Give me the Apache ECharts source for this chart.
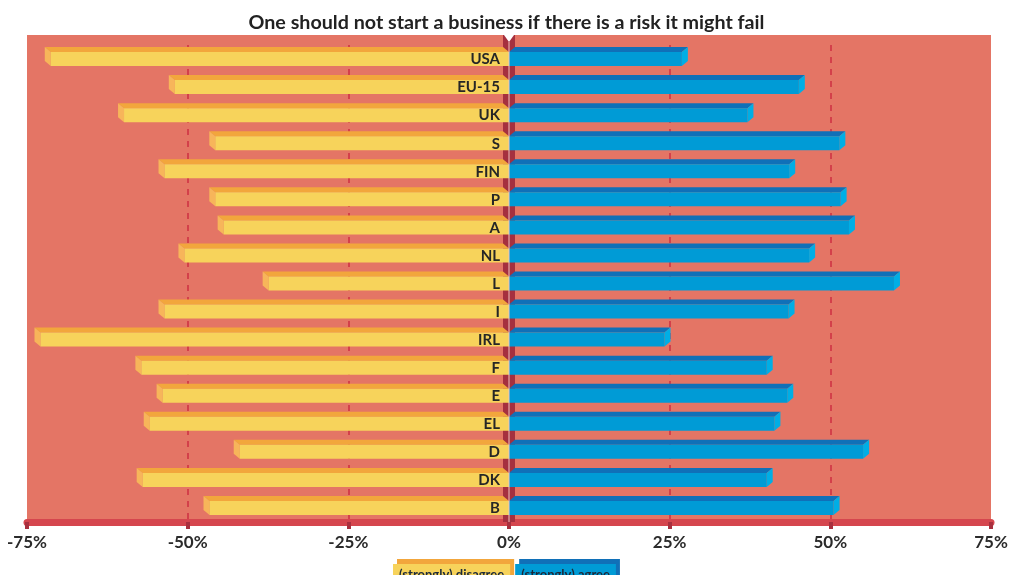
<!DOCTYPE html>
<html>
<head>
<meta charset="utf-8">
<script src="https://cdn.jsdelivr.net/npm/echarts@6/dist/echarts.min.js"></script>
<style>html,body{margin:0;padding:0;background:#fff}#c{width:1013px;height:575px}</style>
</head>
<body>
<div id="c"></div>
<script>
const title = 'One should not start a business if there is a risk it might fail';
const categories = ['USA','EU-15','UK','S','FIN','P','A','NL','L','I','IRL','F','E','EL','D','DK','B'];
const disagree = [-71.3,-52.0,-59.9,-45.7,-53.6,-45.7,-44.4,-50.5,-37.4,-53.6,-72.9,-57.2,-53.9,-55.9,-41.9,-57.0,-46.6];
const agree = [26.9,45.1,37.1,51.4,43.6,51.6,52.9,46.7,59.9,43.5,24.2,40.1,43.3,41.3,55.1,40.1,50.5];
const seriesNames = ['(strongly) disagree','(strongly) agree'];
const ticks = [-75,-50,-25,0,25,50,75];

const C = {
  bg:'#E47565', grid:'#D3404A', strip:'#A5303F', axis:'#D5464E', tick:'#A8303F',
  yFront:'#F7D35B', yTop:'#F2A63C', ySide:'#F7B55A',
  bFront:'#009BD6', bTop:'#1070B8', bSide:'#00AEE5'
};

function makeRender(top, side, front, dir, withLabel){
  return function(params, api){
    const v = api.value(0), idx = api.value(1);
    const c = api.coord([0, idx]);
    const e = api.coord([v, idx]);
    const h = 14, dx = 6*dir, dy = 5;
    const t = c[1]-h/2, b = c[1]+h/2;
    const x0 = c[0], x1 = e[0];
    const kids = [
      {type:'polygon', shape:{points:[[x0,t],[x1,t],[x1+dx,t-dy],[x0+dx,t-dy]]}, style:{fill:top}},
      {type:'polygon', shape:{points:[[x1,t],[x1+dx,t-dy],[x1+dx,b-dy],[x1,b]]}, style:{fill:side}},
      {type:'rect', shape:{x:Math.min(x0,x1), y:t, width:Math.abs(x1-x0), height:h}, style:{fill:front}}
    ];
    if (withLabel) {
      kids.push({type:'text', x:x0-9, y:c[1]+0.5, style:{text:categories[idx], align:'right', verticalAlign:'middle',
        font:'bold 15px Lato', fill:'#262626'}});
    }
    return {type:'group', children:kids};
  };
}

const chart = echarts.init(document.getElementById('c'));
chart.setOption({
  animation:false,
  backgroundColor:'#fff',
  title:{text:title, left:'center', top:8, textStyle:{fontFamily:'Lato', fontWeight:'bold', fontSize:19.7, color:'#222'}},
  legend:{
    data:[
      {name:seriesNames[0], textStyle:{backgroundColor:C.yFront, shadowColor:C.yTop, shadowOffsetX:4, shadowOffsetY:-5}},
      {name:seriesNames[1], textStyle:{backgroundColor:C.bFront, shadowColor:C.bTop, shadowOffsetX:4, shadowOffsetY:-5}}
    ],
    left:383, top:559, itemWidth:0, itemHeight:0, itemGap:0, icon:'rect', selectedMode:false,
    textStyle:{fontFamily:'Lato', fontWeight:'bold', fontSize:13, color:'#1c2a3a', padding:[4,6,4,6]}
  },
  graphic:[{type:'rect', z:-1, shape:{x:27, y:35, width:964, height:12}, style:{fill:C.bg}}],
  grid:{left:27, right:22, top:45, bottom:53, show:true, backgroundColor:C.bg, borderWidth:0, containLabel:false, outerBoundsMode:'none'},
  xAxis:{
    type:'value', min:-75, max:75, interval:25,
    axisLine:{show:true, lineStyle:{color:C.axis, width:7}},
    axisTick:{show:true, length:7, lineStyle:{color:C.tick, width:4}},
    axisLabel:{margin:12, fontFamily:'Lato', fontWeight:'bold', fontSize:17, color:'#2b2b2b',
      formatter:v => (ticks.indexOf(v) >= 0 ? v + '%' : '')},
    splitLine:{show:true, showMinLine:false, showMaxLine:false, lineStyle:{color:C.grid, width:2, type:[6,6]}}
  },
  yAxis:{
    type:'category', data:categories, inverse:true,
    axisLine:{show:false}, axisTick:{show:false}, axisLabel:{show:false}
  },
  series:[
    {type:'custom', name:'strip', z:1, silent:true, data:[[0,0]],
     renderItem:function(params, api){
       const cs = params.coordSys; const x = api.coord([0,0])[0];
       return {type:'group', children:[
         {type:'rect', shape:{x:x-6, y:cs.y-10, width:12, height:cs.height+10}, style:{fill:C.strip}},
         {type:'polygon', shape:{points:[[x-5,cs.y-10],[x+5,cs.y-10],[x,cs.y-3]]}, style:{fill:'#fff'}}
       ]};
     }},
    {type:'custom', name:seriesNames[0], z:2, data:disagree.map((v,i)=>[v,i]), encode:{x:0,y:1},
     itemStyle:{color:C.yFront}, renderItem:makeRender(C.yTop, C.ySide, C.yFront, -1, true)},
    {type:'custom', name:seriesNames[1], z:2, data:agree.map((v,i)=>[v,i]), encode:{x:0,y:1},
     itemStyle:{color:C.bFront}, renderItem:makeRender(C.bTop, C.bSide, C.bFront, 1, false)},
    {type:'custom', name:'centre', z:4, silent:true, data:[[0,0]],
     renderItem:function(params, api){
       const cs = params.coordSys; const x = api.coord([0,0])[0];
       return {type:'rect', shape:{x:x-0.5, y:cs.y-3, width:1, height:cs.height+3}, style:{fill:'#F2C4C0'}};
     }}
  ]
});
</script>
</body>
</html>
